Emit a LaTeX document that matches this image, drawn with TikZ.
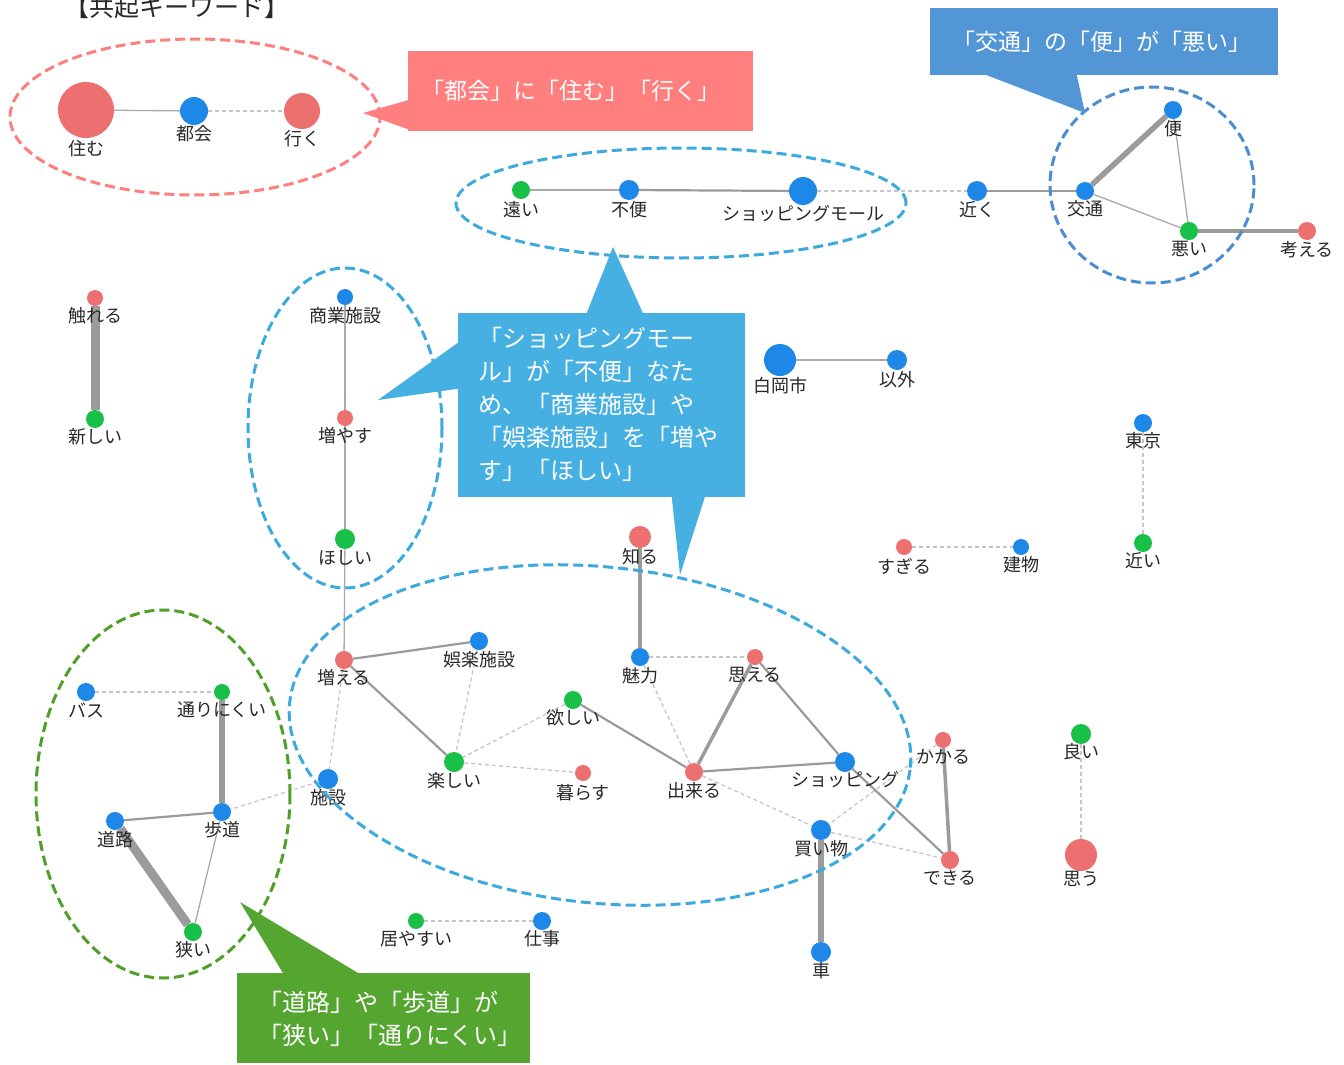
\documentclass[tikz,border=0pt]{standalone}
\usepackage{fontspec}
\newfontfamily\jp{Noto Sans CJK JP}
\usetikzlibrary{shapes.geometric,backgrounds}
\definecolor{nred}{RGB}{236,112,112}
\definecolor{nblue}{RGB}{30,136,232}
\definecolor{ngreen}{RGB}{24,192,72}
\definecolor{egray}{RGB}{155,155,155}
\definecolor{ethin}{RGB}{170,170,170}
\definecolor{edash}{RGB}{198,198,198}
\definecolor{cpink}{RGB}{255,127,127}
\definecolor{cblue}{RGB}{83,150,214}
\definecolor{clblue}{RGB}{69,176,225}
\definecolor{elblue}{RGB}{60,170,222}
\definecolor{edblue}{RGB}{75,140,210}
\definecolor{cgreen}{RGB}{84,166,48}
\definecolor{egreen}{RGB}{78,160,40}
\definecolor{lbl}{RGB}{40,40,40}
\tikzset{
 nodebase/.style={circle, inner sep=0pt, minimum size=#1},
 rn/.style={nodebase=#1, fill=nred},
 bn/.style={nodebase=#1, fill=nblue},
 gn/.style={nodebase=#1, fill=ngreen},
 lb/.style={font=\jp\fontsize{18}{20}\selectfont, text=lbl, inner sep=0pt},
 e1/.style={draw=ethin, line width=1.3pt},
 e2/.style={draw=egray, line width=2.2pt},
 e3/.style={draw=egray, line width=3.5pt},
 e4/.style={draw=egray, line width=5.5pt},
 e5/.style={draw=egray, line width=9pt},
 ed/.style={draw=edash, line width=1.3pt, dash pattern=on 4pt off 3pt},
 ring/.style={ellipse, draw=#1, line width=3pt, dash pattern=on 10pt off 5pt, inner sep=0pt},
 cbox/.style={rectangle, inner sep=0pt, fill=#1},
 ctext/.style={font=\jp\fontsize{23}{33}\selectfont, text=white, inner sep=0pt},
 ctextb/.style={font=\jp\fontsize{24}{33}\selectfont, text=white, inner sep=0pt, align=left},
}
\begin{document}
\begin{tikzpicture}[x=1pt,y=-1pt]
\useasboundingbox (0,0) rectangle (1344,1065);

% title
\node[font=\jp\fontsize{25}{28}\selectfont, text=lbl, inner sep=0pt, anchor=base] (title) at (177,17) {【共起キーワード】};

% ---------- nodes ----------
\node[rn=56] (sumu) at (86,110) {};
\node[bn=28] (tokai) at (194,111) {};
\node[rn=36] (iku) at (302,111) {};
\node[lb] (sumu-t) at (86,149) {住む};
\node[lb] (tokai-t) at (194,134) {都会};
\node[lb] (iku-t) at (302,139) {行く};

\node[gn=18] (tooi) at (521,190) {};
\node[bn=20] (fuben) at (629,190) {};
\node[bn=28] (sm) at (803,191) {};
\node[bn=20] (chikaku) at (977,191) {};
\node[bn=18] (kotsu) at (1085,191) {};
\node[bn=18] (ben) at (1173,110) {};
\node[gn=18] (warui) at (1189,231) {};
\node[rn=18] (kangaeru) at (1307,231) {};
\node[lb] (tooi-t) at (521,210) {遠い};
\node[lb] (fuben-t) at (629,210) {不便};
\node[lb] (sm-t) at (803,214) {ショッピングモール};
\node[lb] (chikaku-t) at (977,210) {近く};
\node[lb] (kotsu-t) at (1085,209) {交通};
\node[lb] (ben-t) at (1173,129) {便};
\node[lb] (warui-t) at (1189,249) {悪い};
\node[lb] (kangaeru-t) at (1307,250) {考える};

\node[rn=16] (fureru) at (95,298) {};
\node[gn=18] (atarashii) at (95,419) {};
\node[lb] (fureru-t) at (95,316) {触れる};
\node[lb] (atarashii-t) at (95,437) {新しい};

\node[bn=16] (shogyo) at (345,297) {};
\node[rn=16] (fuyasu) at (345,418) {};
\node[gn=20] (hoshii) at (345,539) {};
\node[lb] (shogyo-t) at (345,316) {商業施設};
\node[lb] (fuyasu-t) at (345,436) {増やす};
\node[lb] (hoshii-t) at (345,558) {ほしい};

\node[bn=32] (shiraoka) at (780,360) {};
\node[bn=20] (igai) at (897,360) {};
\node[lb] (shiraoka-t) at (780,386) {白岡市};
\node[lb] (igai-t) at (897,380) {以外};

\node[bn=18] (tokyo) at (1143,423) {};
\node[gn=18] (chikai) at (1143,543) {};
\node[lb] (tokyo-t) at (1143,441) {東京};
\node[lb] (chikai-t) at (1143,561) {近い};

\node[rn=16] (sugiru) at (904,547) {};
\node[bn=16] (tatemono) at (1021,547) {};
\node[lb] (sugiru-t) at (904,566) {すぎる};
\node[lb] (tatemono-t) at (1021,565) {建物};

\node[rn=22] (shiru) at (640,537) {};
\node[bn=18] (miryoku) at (640,657) {};
\node[rn=16] (omoeru) at (755,657) {};
\node[rn=18] (dekiru) at (694,772) {};
\node[bn=20] (shopping) at (845,762) {};
\node[gn=18] (hoshii2) at (573,700) {};
\node[gn=20] (tanoshii) at (454,762) {};
\node[rn=16] (kurasu) at (583,773) {};
\node[rn=18] (fueru) at (344,660) {};
\node[bn=18] (goraku) at (479,641) {};
\node[bn=20] (shisetsu) at (328,779) {};
\node[bn=20] (kaimono) at (821,830) {};
\node[bn=20] (kuruma) at (821,952) {};
\node[rn=16] (kakaru) at (943,740) {};
\node[rn=18] (dekiru2) at (950,860) {};
\node[lb] (shiru-t) at (640,557) {知る};
\node[lb] (miryoku-t) at (640,676) {魅力};
\node[lb] (omoeru-t) at (755,675) {思える};
\node[lb] (dekiru-t) at (694,791) {出来る};
\node[lb] (shopping-t) at (845,780) {ショッピング};
\node[lb] (hoshii2-t) at (573,718) {欲しい};
\node[lb] (tanoshii-t) at (454,781) {楽しい};
\node[lb] (kurasu-t) at (583,793) {暮らす};
\node[lb] (fueru-t) at (344,678) {増える};
\node[lb] (goraku-t) at (479,660) {娯楽施設};
\node[lb] (shisetsu-t) at (328,798) {施設};
\node[lb] (kaimono-t) at (821,849) {買い物};
\node[lb] (kuruma-t) at (821,971) {車};
\node[lb] (kakaru-t) at (943,757) {かかる};
\node[lb] (dekiru2-t) at (950,878) {できる};

\node[gn=20] (yoi) at (1081,734) {};
\node[rn=32] (omou) at (1081,855) {};
\node[lb] (yoi-t) at (1081,752) {良い};
\node[lb] (omou-t) at (1081,879) {思う};

\node[bn=18] (basu) at (86,692) {};
\node[gn=16] (torinikui) at (222,692) {};
\node[bn=18] (hodo) at (222,812) {};
\node[bn=18] (doro) at (115,821) {};
\node[gn=18] (semai) at (193,932) {};
\node[lb] (basu-t) at (86,710) {バス};
\node[lb] (torinikui-t) at (222,710) {通りにくい};
\node[lb] (hodo-t) at (222,830) {歩道};
\node[lb] (doro-t) at (115,840) {道路};
\node[lb] (semai-t) at (193,950) {狭い};

\node[gn=16] (iyasui) at (416,921) {};
\node[bn=18] (shigoto) at (542,921) {};
\node[lb] (iyasui-t) at (416,939) {居やすい};
\node[lb] (shigoto-t) at (542,939) {仕事};

% ---------- edges ----------
\begin{pgfonlayer}{background}
\fill[white] (0,0) rectangle (1344,1065);
\draw[e1] (sumu) -- (tokai);
\draw[ed] (tokai) -- (iku);
\draw[e1] (tooi) -- (fuben);
\draw[e2] (fuben) -- (sm);
\draw[ed] (sm) -- (chikaku);
\draw[e2] (chikaku) -- (kotsu);
\draw[e4] (kotsu) -- (ben);
\draw[e1] (ben) -- (warui);
\draw[e1] (kotsu) -- (warui);
\draw[e3] (warui) -- (kangaeru);
\draw[e5] (fureru) -- (atarashii);
\draw[e1] (shogyo) -- (fuyasu);
\draw[e1] (fuyasu) -- (hoshii);
\draw[e1] (hoshii) -- (fueru);
\draw[e1] (shiraoka) -- (igai);
\draw[ed] (tokyo) -- (chikai);
\draw[ed] (sugiru) -- (tatemono);
\draw[e3] (shiru) -- (miryoku);
\draw[ed] (miryoku) -- (omoeru);
\draw[ed] (miryoku) -- (dekiru);
\draw[e3] (omoeru) -- (dekiru);
\draw[e2] (omoeru) -- (shopping);
\draw[e2] (dekiru) -- (shopping);
\draw[e2] (hoshii2) -- (dekiru);
\draw[ed] (hoshii2) -- (tanoshii);
\draw[e2] (fueru) -- (tanoshii);
\draw[e2] (fueru) -- (goraku);
\draw[ed] (goraku) -- (tanoshii);
\draw[ed] (tanoshii) -- (kurasu);
\draw[ed] (fueru) -- (shisetsu);
\draw[ed] (shisetsu) -- (hodo);
\draw[ed] (dekiru) -- (kaimono);
\draw[ed] (kakaru) -- (kaimono);
\draw[e2] (shopping) -- (dekiru2);
\draw[ed] (kaimono) -- (dekiru2);
\draw[e3] (kakaru) -- (dekiru2);
\draw[e4] (kaimono) -- (kuruma);
\draw[ed] (yoi) -- (omou);
\draw[ed] (basu) -- (torinikui);
\draw[e4] (torinikui) -- (hodo);
\draw[e2] (doro) -- (hodo);
\draw[e5] (doro) -- (semai);
\draw[e1] (hodo) -- (semai);
\draw[ed] (iyasui) -- (shigoto);
\end{pgfonlayer}

% ---------- rings ----------
\node[ring=cpink, minimum width=370pt, minimum height=156pt] (ringA) at (195,117) {};
\node[ring=elblue, minimum width=450pt, minimum height=110pt] (ringB) at (681,203) {};
\node[ring=edblue, minimum width=204pt, minimum height=196pt] (ringC) at (1152,185) {};
\node[ring=elblue, minimum width=194pt, minimum height=320pt] (ringD) at (345,428) {};
\node[ring=elblue, minimum width=624pt, minimum height=336pt, rotate=-6] (ringE) at (600,735) {};
\node[ring=egreen, minimum width=254pt, minimum height=368pt] (ringF) at (163,794) {};

% ---------- callouts ----------
\node[cbox=cpink, minimum width=345pt, minimum height=80pt] (pinkbox) at (580.5,91) {};
\coordinate (pinktip) at (363,113);
\fill[cpink] (pinktip) -- ([yshift=31pt]pinkbox.south west) -- ([yshift=2pt]pinkbox.south west) -- cycle;
\node[ctext] (pinktext) at (571,91) {「都会」に「住む」「行く」};

\node[cbox=cblue, minimum width=348pt, minimum height=67pt] (tbbox) at (1104,41.5) {};
\coordinate (tbtip) at (1085,113);
\fill[cblue] (tbtip) -- ([xshift=57pt]tbbox.south west) -- ([xshift=147pt]tbbox.south west) -- cycle;
\node[ctext] (tbtext) at (1102,42) {「交通」の「便」が「悪い」};

\node[cbox=clblue, minimum width=287pt, minimum height=184pt] (bigbox) at (601.5,405) {};
\coordinate (bigtipT) at (613,247);
\coordinate (bigtipL) at (378,400);
\coordinate (bigtipB) at (680,575);
\fill[clblue] (bigtipT) -- ([xshift=129pt]bigbox.north west) -- ([xshift=185pt]bigbox.north west) -- cycle;
\fill[clblue] (bigtipL) -- ([yshift=-30pt]bigbox.north west) -- ([yshift=-76pt]bigbox.north west) -- cycle;
\fill[clblue] (bigtipB) -- ([xshift=214pt]bigbox.south west) -- ([xshift=247pt]bigbox.south west) -- cycle;
\node[ctextb, anchor=base west] (bigtext) at (478,479) {「ショッピングモー\\ル」が「不便」なた\\め、「商業施設」や\\「娯楽施設」を「増や\\す」「ほしい」};

\node[cbox=cgreen, minimum width=293pt, minimum height=90pt] (gbox) at (383.5,1018) {};
\coordinate (gtip) at (240,902);
\fill[cgreen] (gtip) -- ([xshift=46pt]gbox.north west) -- ([xshift=121pt]gbox.north west) -- cycle;
\node[ctextb, anchor=base west] (gtext) at (258,1044) {「道路」や「歩道」が\\「狭い」「通りにくい」};
\end{tikzpicture}
\end{document}
